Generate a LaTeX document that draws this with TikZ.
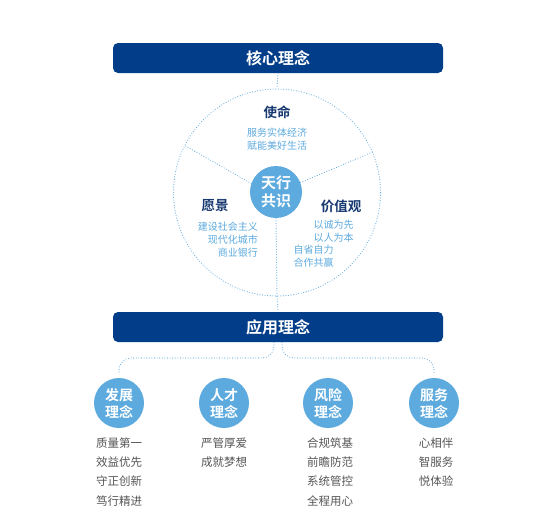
\documentclass[tikz,border=0pt]{standalone}
\usepackage{fontspec}
\usepackage{xcolor}
\usepackage{tikz}
\usetikzlibrary{positioning}
\setmainfont{Noto Sans CJK SC}[BoldFont={Noto Sans CJK SC Bold}]
\definecolor{navy}{RGB}{2,61,137}
\definecolor{skyblue}{RGB}{93,170,222}
\definecolor{inkblue}{RGB}{22,56,112}
\definecolor{textgray}{RGB}{85,85,85}

\begin{document}
\begin{tikzpicture}[x=1pt, y=-1pt,
	bar/.style={rectangle, rounded corners=5pt, fill=navy, text=white, minimum width=330pt, minimum height=30pt, font=\bfseries\fontsize{16}{16}\selectfont},
	ball/.style={circle, fill=skyblue, text=white, inner sep=0pt, align=center, minimum size=50pt, font=\bfseries\fontsize{14}{17}\selectfont},
	link/.style={draw=skyblue, line width=1.1pt, dash pattern=on 0pt off 2.6pt, line cap=round},
	head/.style={text=inkblue, font=\bfseries\fontsize{13.5}{16}\selectfont},
	motto/.style={text=skyblue, inner sep=0pt, font=\fontsize{10}{12.7}\selectfont},
	item/.style={text=textgray, align=center, inner sep=0pt, font=\fontsize{11.5}{19.3}\selectfont}]
	\useasboundingbox (0,0) rectangle (554,530);
	% Nodes
	\node[bar] (core) at (278,58) {核心理念};
	\node[link, circle, minimum size=207pt] (ring) at (277,192.5) {};
	\node[ball, minimum size=52pt, font=\bfseries\fontsize{15}{18}\selectfont] (hub) at (276,192) {天行\\共识};
	\node[head] (mission) at (277,112) {使命};
	\node[motto, align=center] (missiontext) at (277,139) {服务实体经济\\赋能美好生活};
	\node[head, anchor=west] (vision) at (198,206) {愿景};
	\node[motto, align=right, anchor=east] (visiontext) at (258,239.5) {建设社会主义\\现代化城市\\商业银行};
	\node[head] (values) at (341,206) {价值观};
	\node[motto, align=center] (valuestexta) at (333.5,231) {以诚为先\\以人为本};
	\node[motto, align=center] (valuestextb) at (313.5,256.5) {自省自力\\合作共赢};
	\node[bar] (apply) at (278,327) {应用理念};
	\node[ball] (c1) at (119,403) {发展\\理念};
	\node[ball] (c2) at (224,403) {人才\\理念};
	\node[ball] (c3) at (328,403) {风险\\理念};
	\node[ball] (c4) at (434,403) {服务\\理念};
	\node[item, below=9pt of c1] (list1) {质量第一\\效益优先\\守正创新\\笃行精进};
	\node[item, below=9pt of c2] (list2) {严管厚爱\\成就梦想};
	\node[item, below=9pt of c3, xshift=2pt] (list3) {合规筑基\\前瞻防范\\系统管控\\全程用心};
	\node[item, below=9pt of c4, xshift=2pt] (list4) {心相伴\\智服务\\悦体验};
	% Edges
	\draw[link] (core.south) -- (ring.north);
	\draw[link] (hub.161) -- (ring.153);
	\draw[link] (hub.21) -- (ring.23);
	\draw[link] (hub.south) -- (ring.south);
	\draw[link] (ring.south) -- (apply.north);
	\draw[link, rounded corners=12pt, shorten >=5pt] ([xshift=-4pt]apply.south) |- (c1.north |- 0,358) -- (c1.north);
	\draw[link, rounded corners=12pt, shorten >=5pt] ([xshift=4pt]apply.south) |- (c4.north |- 0,358) -- (c4.north);
\end{tikzpicture}
\end{document}
